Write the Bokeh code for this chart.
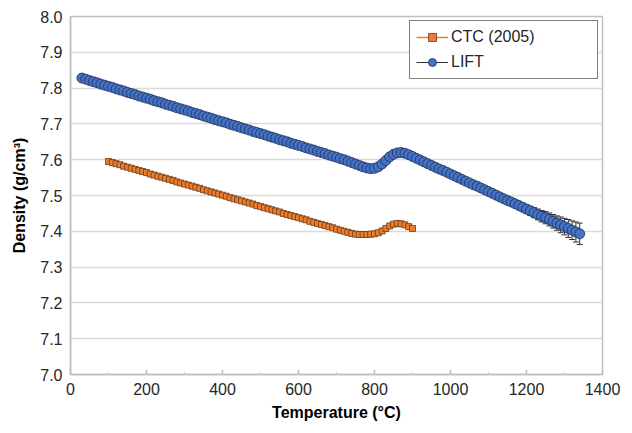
import numpy as np
from bokeh.plotting import figure
from bokeh.models import (FixedTicker, NumeralTickFormatter, Legend, LegendItem,
                          ColumnDataSource, Range1d)
from bokeh.embed import file_html
from bokeh.resources import INLINE

# ---------------- data ----------------
ctc_temp = list(range(100, 910, 10))
ctc_density = [
    7.595, 7.592, 7.589, 7.586, 7.582, 7.579, 7.576, 7.573, 7.570, 7.567,
    7.564, 7.560, 7.557, 7.554, 7.551, 7.548, 7.545, 7.542, 7.538, 7.535,
    7.532, 7.529, 7.526, 7.523, 7.520, 7.516, 7.513, 7.510, 7.507, 7.504,
    7.501, 7.498, 7.494, 7.491, 7.488, 7.485, 7.482, 7.479, 7.476, 7.472,
    7.469, 7.466, 7.463, 7.460, 7.457, 7.454, 7.450, 7.447, 7.444, 7.441,
    7.438, 7.435, 7.432, 7.428, 7.425, 7.422, 7.419, 7.416, 7.413, 7.410,
    7.406, 7.403, 7.400, 7.397, 7.394, 7.392, 7.391, 7.391, 7.391, 7.392,
    7.393, 7.396, 7.401, 7.408, 7.415, 7.420, 7.422, 7.421, 7.418, 7.413,
    7.408,
]

lift_temp = list(range(30, 1350, 10))
lift_density = [
    7.828, 7.825, 7.821, 7.818, 7.815, 7.811, 7.808, 7.805, 7.802, 7.798,
    7.795, 7.792, 7.788, 7.785, 7.782, 7.778, 7.775, 7.772, 7.769, 7.765,
    7.762, 7.759, 7.755, 7.752, 7.749, 7.745, 7.742, 7.739, 7.736, 7.732,
    7.729, 7.726, 7.722, 7.719, 7.716, 7.712, 7.709, 7.706, 7.703, 7.699,
    7.696, 7.693, 7.689, 7.686, 7.683, 7.679, 7.676, 7.673, 7.670, 7.666,
    7.663, 7.660, 7.656, 7.653, 7.650, 7.646, 7.643, 7.640, 7.637, 7.633,
    7.630, 7.627, 7.623, 7.620, 7.617, 7.613, 7.610, 7.607, 7.603, 7.600,
    7.596, 7.592, 7.588, 7.584, 7.580, 7.577, 7.575, 7.576, 7.580, 7.588,
    7.598, 7.608, 7.615, 7.619, 7.620, 7.618, 7.614, 7.609, 7.604, 7.599,
    7.594, 7.589, 7.584, 7.579, 7.574, 7.570, 7.565, 7.560, 7.555, 7.550,
    7.545, 7.540, 7.535, 7.530, 7.526, 7.521, 7.516, 7.511, 7.506, 7.501,
    7.496, 7.491, 7.486, 7.482, 7.477, 7.472, 7.467, 7.462, 7.457, 7.452,
    7.447, 7.442, 7.438, 7.433, 7.428, 7.423, 7.418, 7.413, 7.408, 7.403,
    7.398, 7.393,
]
# uncertainty (small, hidden behind markers except at high temperature)
lift_error = [0.005] * 112 + [
    0.007, 0.008, 0.009, 0.010, 0.011, 0.012, 0.013, 0.014, 0.015, 0.016,
    0.017, 0.018, 0.019, 0.020, 0.022, 0.023, 0.025, 0.026, 0.028, 0.030,
]

x_ticks = [0, 200, 400, 600, 800, 1000, 1200, 1400]
x_minor_ticks = [100, 300, 500, 700, 900, 1100, 1300]
y_ticks = [7.0, 7.1, 7.2, 7.3, 7.4, 7.5, 7.6, 7.7, 7.8, 7.9, 8.0]

# ---------------- styles ----------------
FONT = "Liberation Sans"
TEXT = "#262626"
AXIS_GRAY = "#bfbfbf"
GRID_GRAY = "#d9d9d9"
ORANGE = "#ED7D31"
ORANGE_EDGE = "#6b3a12"
BLUE = "#4472C4"
BLUE_EDGE = "#1f2f55"

p = figure(width=630, height=431, output_backend="svg", toolbar_location=None,
           x_range=Range1d(0, 1400), y_range=Range1d(7.0, 8.0),
           min_border_left=70, min_border_right=28, min_border_top=16,
           min_border_bottom=57)

p.background_fill_color = "white"
p.border_fill_color = "white"
p.outline_line_color = AXIS_GRAY
p.outline_line_width = 1.5

ctc_src = ColumnDataSource(dict(x=ctc_temp, y=ctc_density))
lo = (np.array(lift_density) - np.array(lift_error)).tolist()
hi = (np.array(lift_density) + np.array(lift_error)).tolist()
lift_src = ColumnDataSource(dict(x=lift_temp, y=lift_density, lo=lo, hi=hi))

ctc_line = p.line("x", "y", source=ctc_src, line_color=ORANGE, line_width=1.5)
ctc_sq = p.scatter("x", "y", source=ctc_src, marker="square", size=6,
                   fill_color=ORANGE, line_color=ORANGE_EDGE, line_width=0.8)

err = p.segment(x0="x", y0="lo", x1="x", y1="hi", source=lift_src,
                line_color="#303030", line_width=1)
p.scatter("x", "lo", source=lift_src, marker="dash", size=6,
          line_color="#303030", line_width=1)
p.scatter("x", "hi", source=lift_src, marker="dash", size=6,
          line_color="#303030", line_width=1)
lift_c = p.scatter("x", "y", source=lift_src, marker="circle", size=10,
                   fill_color=BLUE, line_color=BLUE_EDGE, line_width=0.8)

# ---------------- axes ----------------
p.xaxis.ticker = FixedTicker(ticks=x_ticks, minor_ticks=x_minor_ticks)
p.yaxis.ticker = FixedTicker(ticks=y_ticks)
p.ygrid.ticker = FixedTicker(ticks=y_ticks)
p.yaxis.formatter = NumeralTickFormatter(format="0.0")
p.xgrid.visible = False
p.ygrid.grid_line_color = GRID_GRAY
p.ygrid.grid_line_width = 1.5

p.xaxis.axis_label = "Temperature (°C)"
p.yaxis.axis_label = "Density (g/cm³)"

for ax in (p.xaxis[0], p.yaxis[0]):
    ax.axis_line_color = AXIS_GRAY
    ax.axis_line_width = 1.5
    ax.major_label_text_font = FONT
    ax.major_label_text_font_size = "16px"
    ax.major_label_text_color = TEXT
    ax.axis_label_text_font = FONT
    ax.axis_label_text_font_size = "16px"
    ax.axis_label_text_font_style = "bold"
    ax.axis_label_text_color = "black"
    ax.major_tick_line_color = AXIS_GRAY
    ax.minor_tick_line_color = AXIS_GRAY
    ax.major_tick_line_width = 1.5
    ax.minor_tick_line_width = 1

p.xaxis.major_tick_in = 5
p.xaxis.major_tick_out = 0
p.xaxis.minor_tick_in = 2
p.xaxis.minor_tick_out = 0
p.xaxis.major_label_standoff = 8
p.xaxis.axis_label_standoff = 6

p.yaxis.major_tick_in = 0
p.yaxis.major_tick_out = 0
p.yaxis.minor_tick_in = 0
p.yaxis.minor_tick_out = 0
p.yaxis.major_label_standoff = 8
p.yaxis.axis_label_standoff = 9

# ---------------- legend ----------------
legend = Legend(items=[
    LegendItem(label="CTC (2005)", renderers=[ctc_line, ctc_sq]),
    LegendItem(label="LIFT", renderers=[err, lift_c]),
], location="top_right")
legend.margin = 4
legend.padding = 6
legend.spacing = 5
legend.glyph_width = 32
legend.glyph_height = 20
legend.label_standoff = 3
legend.label_width = 140
legend.label_text_font = FONT
legend.label_text_font_size = "16px"
legend.label_text_color = TEXT
legend.border_line_color = "black"
legend.border_line_width = 1
legend.background_fill_color = "white"
legend.background_fill_alpha = 1
p.add_layout(legend)

open("out.html", "w").write(file_html(p, INLINE))
